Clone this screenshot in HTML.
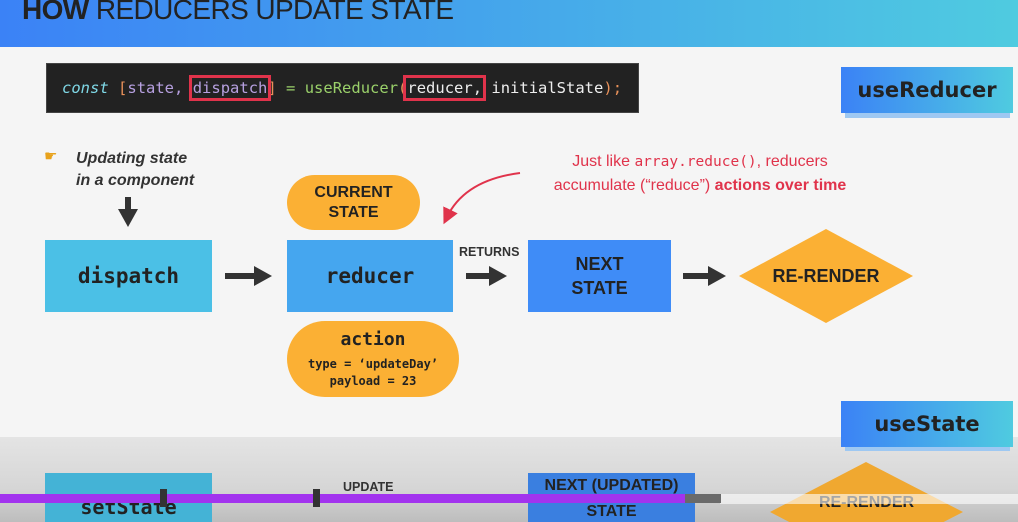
<!DOCTYPE html>
<html><head><style>
html,body{margin:0;width:1018px;height:522px;overflow:hidden}
body{background:#f5f5f5;font-family:"Liberation Sans",sans-serif;position:relative}
.a{position:absolute}
.mono{font-family:"DejaVu Sans Mono","Liberation Mono",monospace}
.c{display:flex;align-items:center;justify-content:center;text-align:center;font-weight:bold;color:#222}
</style></head><body>
<div class="a" style="left:0;top:0;width:1018px;height:47px;background:linear-gradient(90deg,#3b82f6,#4fcbe0)"></div>
<div class="a" style="left:22px;top:-6px;font-size:28px;color:#222;letter-spacing:-0.6px"><b>HOW</b> REDUCERS UPDATE STATE</div>
<div class="a mono" style="left:46px;top:63px;width:593px;height:50px;background:#222;border:1px solid #444;box-sizing:border-box;font-size:15.5px;line-height:48px;padding-left:15px;color:#eee;white-space:pre"><span style="color:#7fd8e6;font-style:italic">const</span> <span style="color:#e8915a">[</span><span style="color:#b7a0e0">state,</span> <span style="color:#b7a0e0;outline:3px solid #e0334b;outline-offset:1px">dispatch</span><span style="color:#e8915a">]</span> <span style="color:#9ad06a">= useReducer</span><span style="color:#e8915a">(</span><span style="outline:3px solid #e0334b;outline-offset:1px">reducer,</span> initialState<span style="color:#e8915a">);</span></div>
<div class="a" style="left:845px;top:110px;width:165px;height:8px;background:#9ec8f2"></div>
<div class="a c" style="left:841px;top:67px;width:172px;height:46px;background:linear-gradient(90deg,#3b82f6,#4fcbe0);font-size:21px;font-family:'DejaVu Sans',sans-serif">useReducer</div>

<div class="a" style="left:44px;top:147px;font-size:15px;color:#e8a21c">☛</div>
<div class="a" style="left:76px;top:148px;font-size:16px;font-weight:bold;font-style:italic;color:#333;line-height:22px">Updating state<br>in a component</div>
<svg class="a" style="left:0;top:0" width="1018" height="522">
<defs><marker id="m" markerWidth="8" markerHeight="8" refX="4" refY="4" orient="auto"><path d="M0,0L8,4L0,8z" fill="#e0334b"/></marker></defs>
<g fill="#333">
<rect x="125" y="197" width="6" height="14"/><path d="M118,209h20l-10,18z"/>
<rect x="225" y="273" width="32" height="6"/><path d="M254,266v20l18,-10z"/>
<rect x="466" y="273" width="26" height="6"/><path d="M489,266v20l18,-10z"/>
<rect x="683" y="273" width="28" height="6"/><path d="M708,266v20l18,-10z"/>
<rect x="226" y="502" width="270" height="6"/><path d="M493,495v20l20,-10z"/>
<rect x="708" y="502" width="24" height="6"/><path d="M730,495v20l18,-10z"/>
</g>
<path d="M520,173 Q465,180 447,217" stroke="#e0334b" stroke-width="2" fill="none" marker-end="url(#m)"/>
<path d="M826,229L913,276L826,323L739,276z" fill="#fbb034"/>
</svg>
<div class="a" style="left:420px;top:150px;width:560px;text-align:center;font-size:16px;color:#e0334b;line-height:23px">Just like <span class="mono" style="font-size:14.5px">array.reduce()</span>, reducers<br>accumulate (“reduce”) <b>actions over time</b></div>
<div class="a c" style="left:45px;top:240px;width:167px;height:72px;background:#4bc0e6;font-size:21px;font-family:'DejaVu Sans Mono',monospace">dispatch</div>
<div class="a c" style="left:287px;top:175px;width:133px;height:55px;background:#fbb034;border-radius:28px;font-size:16px;line-height:20px">CURRENT<br>STATE</div>
<div class="a c" style="left:287px;top:240px;width:166px;height:72px;background:#45a6ef;font-size:21px;font-family:'DejaVu Sans Mono',monospace">reducer</div>
<div class="a c" style="left:287px;top:321px;width:172px;height:76px;background:#fbb034;border-radius:38px;flex-direction:column;font-family:'DejaVu Sans Mono',monospace"><div style="font-size:18px;margin-bottom:6px">action</div><div style="font-size:12px;line-height:17px">type = ‘updateDay’<br>payload = 23</div></div>
<div class="a" style="left:459px;top:245px;font-size:12.5px;font-weight:bold;color:#333">RETURNS</div>
<div class="a c" style="left:528px;top:240px;width:143px;height:72px;background:#3f8cf7;font-size:18px;line-height:24px">NEXT<br>STATE</div>
<div class="a c" style="left:739px;top:262px;width:174px;height:28px;font-size:18px">RE-RENDER</div>

<div class="a" style="left:0;top:437px;width:1018px;height:85px;background:linear-gradient(#e4e4e4,#d6d6d6 60%,#bdbdbd)"></div>
<div class="a" style="left:845px;top:444px;width:165px;height:7px;background:#9ec8f2"></div>
<div class="a c" style="left:841px;top:401px;width:172px;height:46px;background:linear-gradient(90deg,#3b82f6,#4fcbe0);font-size:21px;font-family:'DejaVu Sans',sans-serif">useState</div>
<div class="a c" style="left:45px;top:473px;width:167px;height:49px;background:#44b3d6;font-size:20px;font-family:'DejaVu Sans Mono',monospace;align-items:flex-start;padding-top:22px;box-sizing:border-box;overflow:hidden">setState</div>
<div class="a" style="left:343px;top:480px;font-size:12.5px;font-weight:bold;color:#333">UPDATE</div>
<div class="a c" style="left:528px;top:473px;width:167px;height:49px;background:#3a7fe0;font-size:16px;line-height:26px;flex-direction:column;justify-content:flex-start;overflow:hidden"><div>NEXT (UPDATED)</div><div>STATE</div></div>
<svg class="a" style="left:0;top:0" width="1018" height="522"><path d="M866,462L963,512L866,562L770,512z" fill="#f0a830"/></svg>
<div class="a c" style="left:770px;top:492px;width:193px;height:22px;font-size:16px">RE-RENDER</div>
<div class="a" style="left:720px;top:494px;width:298px;height:10px;background:rgba(255,255,255,0.6)"></div>
<div class="a" style="left:0;top:494px;width:685px;height:9px;background:#a233ee"></div>
<div class="a" style="left:685px;top:494px;width:36px;height:9px;background:#6a6a6a"></div>
<div class="a" style="left:160px;top:489px;width:7px;height:18px;background:#333"></div>
<div class="a" style="left:313px;top:489px;width:7px;height:18px;background:#333"></div>
</body></html>
